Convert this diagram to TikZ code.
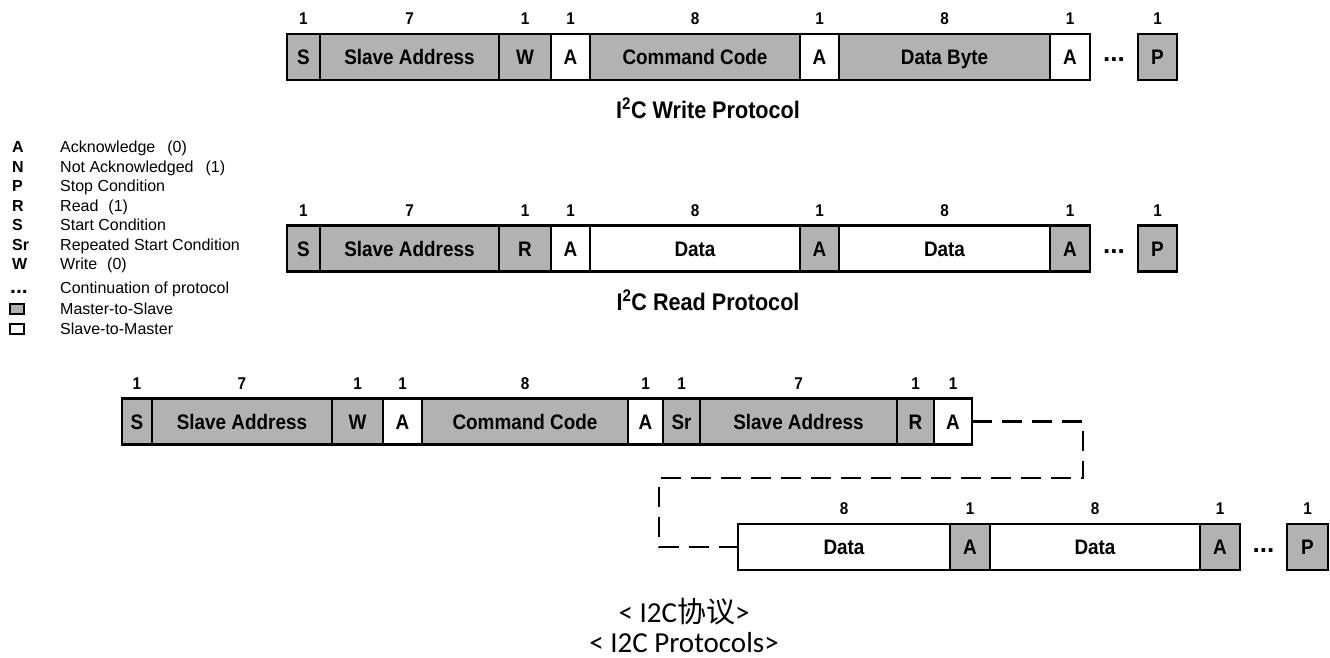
\documentclass[tikz,border=0pt]{standalone}
\usepackage{fontspec}
\setmainfont{Liberation Sans}
\newfontfamily\fieldfont[FakeStretch=0.9]{Liberation Sans}
\newfontfamily\capfont{Carlito}
\newfontfamily\cjk{Noto Sans CJK SC}
\usetikzlibrary{positioning}
\definecolor{msgray}{RGB}{178,178,178}

\begin{document}
\begin{tikzpicture}[
  x=1pt, y=-1pt,
  fld/.style={draw, line width=2.6pt, minimum height=46pt, inner sep=0pt, outer sep=0pt,
    text height=15pt, text depth=0pt, font=\fieldfont\bfseries\fontsize{21}{24}\selectfont},
  mst/.style={fld, fill=msgray},
  slv/.style={fld, fill=white},
  skipfld/.style={minimum height=46pt, inner sep=0pt, outer sep=0pt,
    text height=10pt, text depth=0pt, font=\bfseries\fontsize{26}{28}\selectfont},
  bits/.style={font=\fieldfont\bfseries\fontsize{17}{20}\selectfont, inner sep=1pt},
  every label/.style={bits},
  label distance=8pt,
  ttl/.style={font=\fieldfont\bfseries\fontsize{24}{28}\selectfont},
  key/.style={font=\bfseries\fontsize{16}{19}\selectfont, anchor=base west, inner sep=0pt},
  keytxt/.style={font=\fontsize{16}{19}\selectfont, anchor=base west, inner sep=0pt},
  sq/.style={draw, line width=1.6pt, minimum width=14pt, minimum height=10pt, inner sep=0pt},
  capt/.style={font=\capfont\fontsize{29}{31}\selectfont, anchor=base, inner sep=0pt},
  conn/.style={line width=2.6pt, dash pattern=on 20pt off 10pt}
]
\useasboundingbox (0,0) rectangle (1330,658);

% ---- Write protocol ----
\node[mst, minimum width=33pt, anchor=west, label={above:1}] (w0) at (287,57) {S};
\node[mst, minimum width=179pt, right=0pt of w0, label={above:7}] (w1) {Slave Address};
\node[mst, minimum width=52pt, right=0pt of w1, label={above:1}] (w2) {W};
\node[slv, minimum width=39pt, right=0pt of w2, label={above:1}] (w3) {A};
\node[mst, minimum width=210pt, right=0pt of w3, label={above:8}] (w4) {Command Code};
\node[slv, minimum width=39pt, right=0pt of w4, label={above:1}] (w5) {A};
\node[mst, minimum width=211pt, right=0pt of w5, label={above:8}] (w6) {Data Byte};
\node[slv, minimum width=40pt, right=0pt of w6, label={above:1}] (w7) {A};
\node[skipfld, minimum width=48pt, right=0pt of w7] (w8) {...};
\node[mst, minimum width=39pt, right=0pt of w8, label={above:1}] (w9) {P};
\node[ttl] (wttl) at (708,108) {I\textsuperscript{2}C Write Protocol};

% ---- Read protocol ----
\node[mst, minimum width=33pt, anchor=west, label={above:1}] (r0) at (287,248.5) {S};
\node[mst, minimum width=179pt, right=0pt of r0, label={above:7}] (r1) {Slave Address};
\node[mst, minimum width=52pt, right=0pt of r1, label={above:1}] (r2) {R};
\node[slv, minimum width=39pt, right=0pt of r2, label={above:1}] (r3) {A};
\node[slv, minimum width=210pt, right=0pt of r3, label={above:8}] (r4) {Data};
\node[mst, minimum width=39pt, right=0pt of r4, label={above:1}] (r5) {A};
\node[slv, minimum width=211pt, right=0pt of r5, label={above:8}] (r6) {Data};
\node[mst, minimum width=40pt, right=0pt of r6, label={above:1}] (r7) {A};
\node[skipfld, minimum width=48pt, right=0pt of r7] (r8) {...};
\node[mst, minimum width=39pt, right=0pt of r8, label={above:1}] (r9) {P};
\node[ttl] (rttl) at (708,300) {I\textsuperscript{2}C Read Protocol};

% ---- Combined protocol, first line ----
\node[mst, minimum width=30pt, anchor=west, label={above:1}] (c0) at (122,421.5) {S};
\node[mst, minimum width=180pt, right=0pt of c0, label={above:7}] (c1) {Slave Address};
\node[mst, minimum width=51pt, right=0pt of c1, label={above:1}] (c2) {W};
\node[slv, minimum width=39pt, right=0pt of c2, label={above:1}] (c3) {A};
\node[mst, minimum width=206pt, right=0pt of c3, label={above:8}] (c4) {Command Code};
\node[slv, minimum width=35pt, right=0pt of c4, label={above:1}] (c5) {A};
\node[mst, minimum width=37pt, right=0pt of c5, label={above:1}] (c6) {Sr};
\node[mst, minimum width=197pt, right=0pt of c6, label={above:7}] (c7) {Slave Address};
\node[mst, minimum width=37pt, right=0pt of c7, label={above:1}] (c8) {R};
\node[slv, minimum width=38pt, right=0pt of c8, label={above:1}] (c9) {A};

% ---- Combined protocol, second line ----
\node[slv, minimum width=212pt, anchor=west, label={above:8}] (d0) at (738,547) {Data};
\node[mst, minimum width=40pt, right=0pt of d0, label={above:1}] (d1) {A};
\node[slv, minimum width=210pt, right=0pt of d1, label={above:8}] (d2) {Data};
\node[mst, minimum width=40pt, right=0pt of d2, label={above:1}] (d3) {A};
\node[skipfld, minimum width=47pt, right=0pt of d3] (d4) {...};
\node[mst, minimum width=41pt, right=0pt of d4, label={above:1}] (d5) {P};

\coordinate (turnR) at (1083,478);
\coordinate (turnL) at (659,478);
\draw[conn] (c9.east) -| (turnR) -- (turnL) |- (d0.west);

% ---- Legend ----
\foreach \k/\t [count=\i] in {A/Acknowledge\hspace{12pt}(0), N/Not Acknowledged\hspace{12pt}(1),
    P/Stop Condition, R/Read\hspace{10pt}(1), S/Start Condition, Sr/Repeated Start Condition,
    W/Write\hspace{10pt}(0)}
  {\node[key] (key\i) at (12,{133.2+19.5*\i}) {\k};
   \node[keytxt] (txt\i) at (60,{133.2+19.5*\i}) {\t};}
\node[key, font=\bfseries\fontsize{21}{22}\selectfont] (keydots) at (10,293) {...};
\node[keytxt] (txtdots) at (60,293) {Continuation of protocol};
\node[sq, fill=msgray] (sqms) at (16.7,309) {};
\node[keytxt] (txtms) at (60,314.5) {Master-to-Slave};
\node[sq, fill=white] (sqsm) at (16.7,329) {};
\node[keytxt] (txtsm) at (60,334) {Slave-to-Master};

% ---- Caption ----
\node[capt] (cap1) at (684,622) {< I2C{\cjk 协议}>};
\node[capt] (cap2) at (684,652) {< I2C Protocols>};

\end{tikzpicture}
\end{document}
